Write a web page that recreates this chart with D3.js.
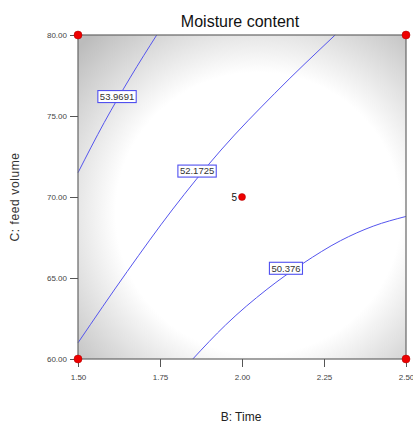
<!DOCTYPE html>
<html>
<head>
<meta charset="utf-8">
<script src="https://cdn.jsdelivr.net/npm/d3@7"></script>
<style>
  body { margin: 0; background: #fff; }
  text { font-family: "Liberation Sans", Arial, sans-serif; }
</style>
</head>
<body>
<div id="chart"></div>
<script>
// contour levels and their lines (B: Time, C: feed volume)
var levels = ["53.9691", "52.1725", "50.376"]
var line1 = [[1.50, 71.5], [1.58, 74.6], [1.66, 77.4], [1.74, 80.0]]
var line2 = [[1.50, 61.0], [1.65, 65.4], [1.787, 69.2], [1.936, 72.9], [2.10, 76.4], [2.284, 80.0]]
var line3 = [[1.85, 60.0], [1.95, 62.1], [2.076, 64.3], [2.186, 65.9], [2.30, 67.3], [2.40, 68.2], [2.50, 68.8]]
var labelAt = [[1.619, 76.2], [1.863, 71.6], [2.134, 65.6]]

// design points
var corners = [[1.5, 60], [1.5, 80], [2.5, 60], [2.5, 80]]
var center = [[2.0, 70, "5"]]

var xTicks = [1.50, 1.75, 2.00, 2.25, 2.50]
var yTicks = [60, 65, 70, 75, 80]

var width = 413, height = 425
var margin = {top: 35, right: 7, bottom: 66, left: 78}

var svg = d3.select("#chart").append("svg")
    .attr("width", width)
    .attr("height", height)

var x = d3.scaleLinear().domain([1.5, 2.5]).range([margin.left, width - margin.right])
var y = d3.scaleLinear().domain([60, 80]).range([height - margin.bottom, margin.top])

// background shading
var grad = svg.append("defs").append("radialGradient")
    .attr("id", "bg")
    .attr("cx", "55%").attr("cy", "55%").attr("r", "75%")
grad.append("stop").attr("offset", "0%").attr("stop-color", "#ffffff")
grad.append("stop").attr("offset", "58%").attr("stop-color", "#ffffff")
grad.append("stop").attr("offset", "100%").attr("stop-color", "#bcbcbc")

svg.append("rect")
    .attr("x", x(1.5)).attr("y", y(80))
    .attr("width", x(2.5) - x(1.5)).attr("height", y(60) - y(80))
    .attr("fill", "url(#bg)")

// contour lines
var line = d3.line().x(d => x(d[0])).y(d => y(d[1])).curve(d3.curveMonotoneX)
var g = svg.append("g")
g.selectAll("path.contour")
    .data([line1, line2, line3])
    .enter().append("path")
    .attr("class", "contour")
    .attr("d", line)
    .attr("fill", "none")
    .attr("stroke", "#5555ee")
    .attr("stroke-width", 1)

// plot border
svg.append("rect")
    .attr("x", x(1.5)).attr("y", y(80))
    .attr("width", x(2.5) - x(1.5)).attr("height", y(60) - y(80))
    .attr("fill", "none").attr("stroke", "#666").attr("stroke-width", 1.2)

// axes
var xAxis = svg.append("g")
    .attr("transform", `translate(0,${y(60)})`)
    .call(d3.axisBottom(x).tickValues(xTicks).tickFormat(d3.format(".2f")).tickSize(8).tickSizeOuter(0))
var yAxis = svg.append("g")
    .attr("transform", `translate(${x(1.5)},0)`)
    .call(d3.axisLeft(y).tickValues(yTicks).tickFormat(d3.format(".2f")).tickSize(8).tickSizeOuter(0))

svg.selectAll(".domain").remove()
svg.selectAll(".tick line").attr("stroke", "#555")
svg.selectAll(".tick text")
    .attr("fill", "#444")
    .style("font-size", "8px")
    .style("font-family", "'Liberation Sans Narrow', 'Liberation Sans', Arial, sans-serif")
xAxis.selectAll(".tick text").attr("dy", "1.3em")
yAxis.selectAll(".tick text").attr("x", -11)

// contour labels
var lab = svg.selectAll("g.clabel")
    .data(levels)
    .enter().append("g")
    .attr("class", "clabel")
    .attr("transform", (d, i) => `translate(${x(labelAt[i][0])},${y(labelAt[i][1])})`)
lab.append("text")
    .attr("text-anchor", "middle")
    .attr("dy", "0.35em")
    .style("font-size", "9.5px")
    .attr("fill", "#333")
    .text(d => d)
lab.each(function() {
    var t = d3.select(this).select("text")
    var b = t.node().getBBox()
    d3.select(this).insert("rect", "text")
        .attr("x", b.x - 2).attr("y", -6)
        .attr("width", b.width + 4).attr("height", 12)
        .attr("fill", "#fff")
        .attr("stroke", "#5050f0")
        .attr("stroke-width", 1.1)
})

// design points
svg.selectAll("circle.corner")
    .data(corners.concat(center))
    .enter().append("circle")
    .attr("cx", d => x(d[0]))
    .attr("cy", d => y(d[1]))
    .attr("r", d => d.length > 2 ? 3.5 : 4)
    .attr("fill", "#ee0000")
    .attr("stroke", "#aa0000")
    .attr("stroke-width", 0.5)

svg.selectAll("text.cnt")
    .data(center)
    .enter().append("text")
    .attr("class", "cnt")
    .attr("x", d => x(d[0]) - 5)
    .attr("y", d => y(d[1]))
    .attr("dy", "0.35em")
    .attr("text-anchor", "end")
    .style("font-size", "10px")
    .attr("fill", "#111")
    .text(d => d[2])

// titles
svg.append("text")
    .attr("x", 240).attr("y", 27)
    .attr("text-anchor", "middle")
    .style("font-size", "16px")
    .attr("fill", "#111")
    .text("Moisture content")

svg.append("text")
    .attr("x", 241).attr("y", 421)
    .attr("text-anchor", "middle")
    .style("font-size", "12px")
    .attr("fill", "#222")
    .text("B: Time")

svg.append("text")
    .attr("transform", `translate(19,197) rotate(-90)`)
    .attr("text-anchor", "middle")
    .style("font-size", "12px")
    .style("letter-spacing", "0.6px")
    .attr("fill", "#333")
    .text("C: feed volume")
</script>
</body>
</html>
